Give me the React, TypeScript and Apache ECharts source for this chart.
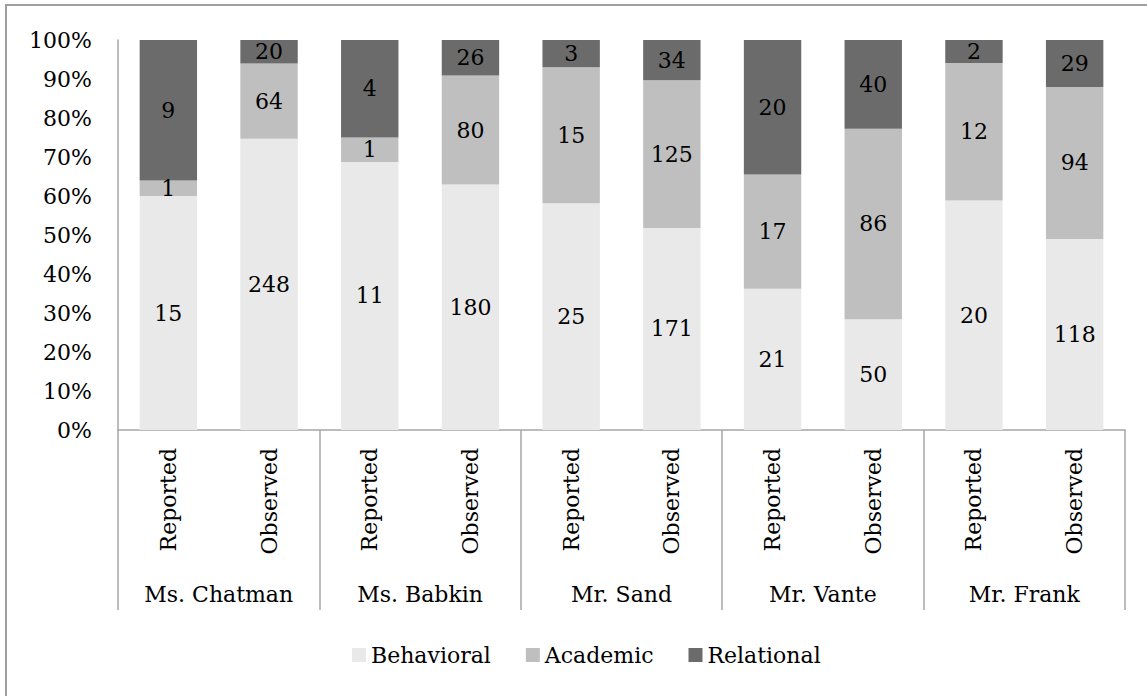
import React, { useEffect, useRef } from "react";
import * as echarts from "echarts";

const teachers = ["Ms. Chatman", "Ms. Babkin", "Mr. Sand", "Mr. Vante", "Mr. Frank"];
const sources = ["Reported", "Observed"];
const categories = teachers.flatMap(() => sources);
const behavioral = [15, 248, 11, 180, 25, 171, 21, 50, 20, 118];
const academic = [1, 64, 1, 80, 15, 125, 17, 86, 12, 94];
const relational = [9, 20, 4, 26, 3, 34, 20, 40, 2, 29];
const yTicks = [0, 10, 20, 30, 40, 50, 60, 70, 80, 90, 100];

const FONT = "DejaVu Serif";
const FS = 22;
const AXIS_GRAY = "#A6A6A6";

export default function App() {
  const ref = useRef<HTMLDivElement>(null);
  useEffect(() => {
    if (!ref.current) return;
    const chart = echarts.init(ref.current, undefined, { renderer: "svg" });
    const totals = behavioral.map((b, i) => b + academic[i] + relational[i]);
    const mk = (name: string, counts: number[], color: string) => ({
      name,
      type: "bar",
      stack: "all",
      barCategoryGap: "43%",
      data: counts.map((c, i) => ({ value: (c / totals[i]) * 100, count: c })),
      itemStyle: { color },
      label: {
        show: true,
        position: "inside",
        color: "#000",
        fontFamily: FONT,
        fontSize: FS,
        formatter: (p: any) => String(p.data.count),
      },
    });
    chart.setOption({
      animation: false,
      textStyle: { fontFamily: FONT },
      graphic: [
        {
          type: "rect",
          shape: { x: 6, y: 5, width: 1300, height: 900 },
          style: { fill: "none", stroke: "#A0A0A0", lineWidth: 2 },
          silent: true,
        },
      ],
      grid: { left: 118, right: 22, top: 40, bottom: 266 },
      legend: {
        top: 639,
        left: 347,
        icon: "rect",
        itemWidth: 14,
        itemHeight: 14,
        itemGap: 35,
        textStyle: { fontFamily: FONT, fontSize: FS, color: "#000" },
        data: ["Behavioral", "Academic", "Relational"],
      },
      xAxis: [
        {
          type: "category",
          data: categories,
          position: "bottom",
          axisLine: { show: true, lineStyle: { color: AXIS_GRAY, width: 1.5 } },
          axisTick: { show: false },
          axisLabel: {
            rotate: 90,
            margin: 18,
            interval: 0,
            color: "#000",
            fontFamily: FONT,
            fontSize: FS,
          },
        },
        {
          type: "category",
          data: teachers,
          position: "bottom",
          offset: 180,
          axisLine: { show: false },
          axisTick: {
            show: true,
            inside: true,
            length: 180,
            lineStyle: { color: AXIS_GRAY, width: 1.5 },
          },
          axisLabel: {
            inside: true,
            margin: 5,
            interval: 0,
            color: "#000",
            fontFamily: FONT,
            fontSize: FS,
          },
        },
      ],
      yAxis: {
        type: "value",
        min: 0,
        max: 100,
        interval: 10,
        axisLine: { show: true, lineStyle: { color: AXIS_GRAY, width: 1.5 } },
        axisTick: { show: false },
        splitLine: { show: false },
        axisLabel: {
          margin: 26,
          color: "#000",
          fontFamily: FONT,
          fontSize: FS,
          formatter: (v: number) => (yTicks.includes(v) ? `${v}%` : ""),
        },
      },
      series: [
        mk("Behavioral", behavioral, "#E9E9E9"),
        mk("Academic", academic, "#BFBFBF"),
        mk("Relational", relational, "#6B6B6B"),
      ],
    });
    return () => chart.dispose();
  }, []);
  return (
    <div
      ref={ref}
      style={{ position: "fixed", left: 0, top: 0, width: 1147, height: 696, background: "#fff" }}
    />
  );
}
